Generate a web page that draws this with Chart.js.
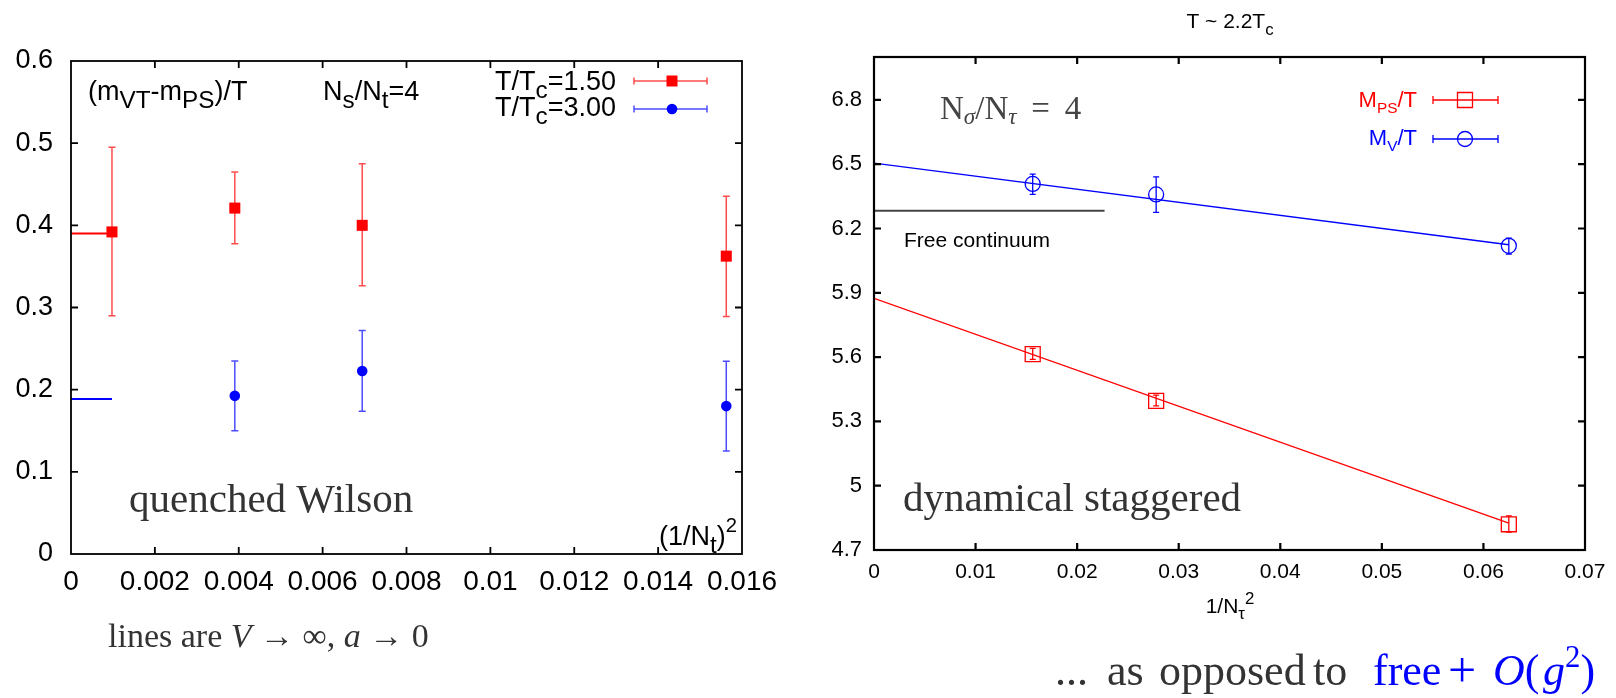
<!DOCTYPE html>
<html>
<head>
<meta charset="utf-8">
<script src="https://cdn.jsdelivr.net/npm/chart.js@4/dist/chart.umd.min.js"></script>
<style>
  body { margin: 0; background: #fff; width: 1616px; height: 698px; overflow: hidden; position: relative; }
  .panel { position: absolute; top: 0; height: 698px; }
  #left { left: 0; width: 800px; }
  #right { left: 800px; width: 816px; }
</style>
</head>
<body>
<div class="panel" id="left"><canvas id="wilson"></canvas></div>
<div class="panel" id="right"><canvas id="staggered"></canvas></div>
<script>
// left panel: quenched Wilson, (m_VT - m_PS)/T against (1/N_t)^2
const wilsonX = [0.000977, 0.003906, 0.006944, 0.015625];
const wilson150 = [0.392, 0.421, 0.400, 0.3625];
const wilson150Lo = [0.290, 0.3775, 0.3265, 0.289];
const wilson150Hi = [0.495, 0.465, 0.475, 0.4355];
const wilson300X = [0.003906, 0.006944, 0.015625];
const wilson300 = [0.1925, 0.2227, 0.180];
const wilson300Lo = [0.150, 0.1737, 0.1255];
const wilson300Hi = [0.235, 0.272, 0.2345];
const limitX = [0, 0.000977];
const limit150 = [0.390, 0.390];
const limit300 = [0.1887, 0.1887];
const leftXTicks = [0, 0.002, 0.004, 0.006, 0.008, 0.01, 0.012, 0.014, 0.016];
const leftXLabels = ['0', '0.002', '0.004', '0.006', '0.008', '0.01', '0.012', '0.014', '0.016'];
const leftYTicks = [0, 0.1, 0.2, 0.3, 0.4, 0.5, 0.6];
const leftYLabels = ['0', '0.1', '0.2', '0.3', '0.4', '0.5', '0.6'];

// right panel: dynamical staggered, M/T against 1/N_tau^2
const stagX = [0.015625, 0.027778, 0.0625];
const stagMV = [6.408, 6.359, 6.119];
const stagMVLo = [6.359, 6.275, 6.081];
const stagMVHi = [6.454, 6.441, 6.155];
const stagMPS = [5.614, 5.396, 4.820];
const stagMPSLo = [5.589, 5.372, 4.784];
const stagMPSHi = [5.641, 5.423, 4.859];
const fitX = [0, 0.0625];
const fitMV = [6.505, 6.124];
const fitMPS = [5.874, 4.825];
const freeX = [0, 0.0227];
const freeY = [6.283, 6.283];
const rightXTicks = [0, 0.01, 0.02, 0.03, 0.04, 0.05, 0.06, 0.07];
const rightXLabels = ['0', '0.01', '0.02', '0.03', '0.04', '0.05', '0.06', '0.07'];
const rightYTicks = [4.7, 5, 5.3, 5.6, 5.9, 6.2, 6.5, 6.8];
const rightYLabels = ['4.7', '5', '5.3', '5.6', '5.9', '6.2', '6.5', '6.8'];

const SANS = '"Liberation Sans", Arial, sans-serif';
const SERIF = '"Liberation Serif", "Times New Roman", serif';
const RED = '#ff0000';
const BLUE = '#0000ff';

const pts = (xs, ys) => xs.map((x, i) => ({x: x, y: ys[i]}));

// text with sub/superscripts: parts are [text, 'sub'|'sup'|'', italic, colour]
function rich(ctx, x, y, parts, o) {
	const fontFor = p => {
		const s = p[1] === 'sub' ? o.size * (o.subScale || 0.8) : p[1] === 'sup' ? o.size * (o.supScale || 0.8) : o.size;
		return (p[2] ? 'italic ' : '') + s + 'px ' + o.family;
	};
	let w = 0;
	parts.forEach(p => { ctx.font = fontFor(p); w += ctx.measureText(p[0]).width; });
	let cx = o.align === 'right' ? x - w : o.align === 'center' ? x - w / 2 : x;
	ctx.textAlign = 'left';
	ctx.textBaseline = 'alphabetic';
	parts.forEach(p => {
		ctx.font = fontFor(p);
		ctx.fillStyle = p[3] || o.color || '#000';
		const dy = p[1] === 'sub' ? (o.subDrop || o.size * 0.3) : p[1] === 'sup' ? -(o.supRise || o.size * 0.45) : 0;
		ctx.fillText(p[0], cx, y + dy);
		cx += ctx.measureText(p[0]).width;
	});
}

function marker(ctx, style, x, y, r, color, filled) {
	ctx.beginPath();
	if (style === 'rect') ctx.rect(x - r, y - r, 2 * r, 2 * r);
	else ctx.arc(x, y, r, 0, Math.PI * 2);
	if (filled) { ctx.fillStyle = color; ctx.fill(); }
	else { ctx.strokeStyle = color; ctx.lineWidth = 1.3; ctx.stroke(); }
}

function legendSample(ctx, x0, x1, y, color, cap, lw) {
	ctx.strokeStyle = color;
	ctx.lineWidth = lw;
	ctx.beginPath();
	ctx.moveTo(x0, y); ctx.lineTo(x1, y);
	ctx.moveTo(x0, y - cap); ctx.lineTo(x0, y + cap);
	ctx.moveTo(x1, y - cap); ctx.lineTo(x1, y + cap);
	ctx.stroke();
}

// the axis box is given a fixed size so the plot area lands where the reference has it
function axis(min, max, ticks, labels, size, pad, boxSize, horizontal) {
	return {
		type: 'linear',
		min: min,
		max: max,
		grid: {display: false, drawTicks: false},
		border: {display: false},
		afterBuildTicks: s => { s.ticks = ticks.map(v => ({value: v})); },
		afterFit: s => { if (horizontal) s.height = boxSize; else s.width = boxSize; },
		ticks: {
			color: '#000',
			padding: pad,
			autoSkip: false,
			maxRotation: 0,
			font: {family: SANS, size: size},
			callback: (v, i) => labels[i]
		}
	};
}

// gnuplot style frame with inward ticks on all four sides
const frame = {
	id: 'frame',
	afterDraw(chart, args, opts) {
		const {ctx, chartArea: a, scales: {x, y}} = chart;
		ctx.save();
		ctx.strokeStyle = '#000';
		ctx.lineWidth = opts.width;
		ctx.strokeRect(a.left, a.top, a.right - a.left, a.bottom - a.top);
		ctx.beginPath();
		x.ticks.forEach(t => {
			const px = x.getPixelForValue(t.value);
			if (px < a.left + 2 || px > a.right - 2) return;
			ctx.moveTo(px, a.bottom); ctx.lineTo(px, a.bottom - opts.len);
			ctx.moveTo(px, a.top); ctx.lineTo(px, a.top + opts.len);
		});
		y.ticks.forEach(t => {
			const py = y.getPixelForValue(t.value);
			if (py < a.top + 2 || py > a.bottom - 2) return;
			ctx.moveTo(a.left, py); ctx.lineTo(a.left + opts.len, py);
			ctx.moveTo(a.right, py); ctx.lineTo(a.right - opts.len, py);
		});
		ctx.stroke();
		ctx.restore();
	}
};

const errorBars = {
	id: 'errorBars',
	beforeDatasetsDraw(chart) {
		const {ctx, scales: {x, y}} = chart;
		chart.data.datasets.forEach(ds => {
			if (!ds.errLo) return;
			ctx.save();
			ctx.strokeStyle = ds.errColor;
			ctx.lineWidth = ds.errWidth;
			ds.data.forEach((p, i) => {
				const px = x.getPixelForValue(p.x);
				const lo = y.getPixelForValue(ds.errLo[i]);
				const hi = y.getPixelForValue(ds.errHi[i]);
				const c = ds.errCap;
				ctx.beginPath();
				ctx.moveTo(px, lo); ctx.lineTo(px, hi);
				ctx.moveTo(px - c, lo); ctx.lineTo(px + c, lo);
				ctx.moveTo(px - c, hi); ctx.lineTo(px + c, hi);
				ctx.stroke();
			});
			ctx.restore();
		});
	}
};

const wilsonNotes = {
	id: 'wilsonNotes',
	afterDraw(chart) {
		const ctx = chart.ctx;
		const t = {size: 27, family: SANS, subScale: 0.9, subDrop: 8, supScale: 0.75, supRise: 13};
		ctx.save();
		rich(ctx, 88, 100, [['(m'], ['VT', 'sub'], ['-m'], ['PS', 'sub'], [')/T']], t);
		rich(ctx, 323, 100, [['N'], ['s', 'sub'], ['/N'], ['t', 'sub'], ['=4']], t);
		rich(ctx, 616, 90, [['T/T'], ['c', 'sub'], ['=1.50']], Object.assign({align: 'right'}, t));
		rich(ctx, 616, 116, [['T/T'], ['c', 'sub'], ['=3.00']], Object.assign({align: 'right'}, t));
		legendSample(ctx, 634, 707, 81, 'rgba(255,0,0,0.7)', 3.5, 1.5);
		marker(ctx, 'rect', 672, 81, 5.5, RED, true);
		legendSample(ctx, 634, 707, 109, 'rgba(0,0,255,0.7)', 3.5, 1.5);
		marker(ctx, 'circle', 672, 109, 5.3, BLUE, true);
		rich(ctx, 737, 545, [['(1/N'], ['t', 'sub'], [')'], ['2', 'sup']], Object.assign({align: 'right'}, t));
		rich(ctx, 129, 512, [['quenched Wilson']], {size: 41, family: SERIF, color: '#333'});
		rich(ctx, 108, 647, [['lines are '], ['V', '', true], [' \u2192 \u221e, '], ['a', '', true], [' \u2192 0']],
			{size: 34, family: SERIF, color: '#333'});
		ctx.restore();
	}
};

const staggeredNotes = {
	id: 'staggeredNotes',
	afterDraw(chart) {
		const ctx = chart.ctx;
		ctx.save();
		rich(ctx, 430, 28, [['T ~ 2.2T'], ['c', 'sub']], {size: 21, family: SANS, align: 'center', subScale: 0.8, subDrop: 7});
		const lg = {size: 22, family: SANS, align: 'right', subScale: 0.7, subDrop: 6};
		rich(ctx, 617, 107, [['M', '', false, RED], ['PS', 'sub', false, RED], ['/T', '', false, RED]], lg);
		rich(ctx, 617, 145, [['M', '', false, BLUE], ['V', 'sub', false, BLUE], ['/T', '', false, BLUE]], lg);
		legendSample(ctx, 633, 698, 100, RED, 4, 1.3);
		marker(ctx, 'rect', 665, 100, 7.5, RED, false);
		legendSample(ctx, 633, 698, 139, BLUE, 4, 1.3);
		marker(ctx, 'circle', 665, 139, 7.5, BLUE, false);
		rich(ctx, 140, 119, [['N'], ['\u03c3', 'sub', true], ['/N'], ['\u03c4', 'sub', true], ['\u2009 = \u20094']],
			{size: 33, family: SERIF, color: '#444', subScale: 0.7, subDrop: 5});
		rich(ctx, 104, 247, [['Free continuum']], {size: 21, family: SANS});
		rich(ctx, 103, 511, [['dynamical staggered']], {size: 41, family: SERIF, color: '#333'});
		rich(ctx, 430, 613, [['1/N'], ['\u03c4', 'sub'], ['2', 'sup']], {size: 21, family: SANS, subScale: 0.8, subDrop: 6, supScale: 0.8, supRise: 9, align: 'center'});
		// closing remark, word by word as it is spaced in the slide
		const big = {size: 44, family: SERIF, color: '#333'};
		rich(ctx, 255, 685, [['...']], big);
		rich(ctx, 307, 685, [['as']], big);
		rich(ctx, 359, 685, [['opposed']], big);
		rich(ctx, 513, 685, [['to']], big);
		const blue = {size: 44, family: SERIF, color: BLUE, supScale: 0.7, supRise: 18};
		rich(ctx, 573, 685, [['free']], blue);
		rich(ctx, 648, 687, [['+']], {size: 50, family: SERIF, color: BLUE});
		rich(ctx, 693, 685, [['O', '', true], ['(']], blue);
		rich(ctx, 743, 685, [['g', '', true], ['2', 'sup'], [')']], blue);
		ctx.restore();
	}
};

Chart.defaults.animation = false;

new Chart(document.getElementById('wilson'), {
	type: 'scatter',
	data: {
		datasets: [
			{data: pts(limitX, limit150), showLine: true, borderColor: RED, borderWidth: 2, pointRadius: 0},
			{data: pts(limitX, limit300), showLine: true, borderColor: BLUE, borderWidth: 2, pointRadius: 0},
			{
				label: 'T/Tc=1.50', data: pts(wilsonX, wilson150), pointStyle: 'rect', pointRadius: 7.8,
				backgroundColor: RED, borderColor: RED, borderWidth: 0,
				errLo: wilson150Lo, errHi: wilson150Hi, errColor: 'rgba(255,0,0,0.7)', errWidth: 1.5, errCap: 3.5
			},
			{
				label: 'T/Tc=3.00', data: pts(wilson300X, wilson300), pointStyle: 'circle', pointRadius: 5.3,
				backgroundColor: BLUE, borderColor: BLUE, borderWidth: 0,
				errLo: wilson300Lo, errHi: wilson300Hi, errColor: 'rgba(0,0,255,0.7)', errWidth: 1.5, errCap: 3.5
			}
		]
	},
	options: {
		responsive: true,
		maintainAspectRatio: false,
		devicePixelRatio: 1,
		layout: {padding: {left: 0, right: 58, top: 61, bottom: 0}},
		plugins: {legend: {display: false}, tooltip: {enabled: false}, frame: {width: 1.8, len: 7}},
		scales: {
			x: axis(0, 0.016, leftXTicks, leftXLabels, 28, 11, 144, true),
			y: axis(0, 0.6, leftYTicks, leftYLabels, 27, 18, 71, false)
		}
	},
	plugins: [errorBars, frame, wilsonNotes]
});

new Chart(document.getElementById('staggered'), {
	type: 'scatter',
	data: {
		datasets: [
			{data: pts(freeX, freeY), showLine: true, borderColor: '#444', borderWidth: 2, pointRadius: 0},
			{data: pts(fitX, fitMV), showLine: true, borderColor: BLUE, borderWidth: 1.3, pointRadius: 0},
			{data: pts(fitX, fitMPS), showLine: true, borderColor: RED, borderWidth: 1.3, pointRadius: 0},
			{
				label: 'MPS/T', data: pts(stagX, stagMPS), pointStyle: 'rect', pointRadius: 10.6,
				backgroundColor: 'rgba(0,0,0,0)', borderColor: RED, borderWidth: 1.3,
				errLo: stagMPSLo, errHi: stagMPSHi, errColor: RED, errWidth: 1.3, errCap: 3
			},
			{
				label: 'MV/T', data: pts(stagX, stagMV), pointStyle: 'circle', pointRadius: 7.5,
				backgroundColor: 'rgba(0,0,0,0)', borderColor: BLUE, borderWidth: 1.3,
				errLo: stagMVLo, errHi: stagMVHi, errColor: BLUE, errWidth: 1.3, errCap: 3
			}
		]
	},
	options: {
		responsive: true,
		maintainAspectRatio: false,
		devicePixelRatio: 1,
		layout: {padding: {left: 0, right: 31, top: 57, bottom: 0}},
		plugins: {legend: {display: false}, tooltip: {enabled: false}, frame: {width: 2.2, len: 7}},
		scales: {
			x: axis(0, 0.07, rightXTicks, rightXLabels, 21, 10, 148, true),
			y: axis(4.7, 7.0, rightYTicks, rightYLabels, 22, 12, 74, false)
		}
	},
	plugins: [errorBars, frame, staggeredNotes]
});
</script>
</body>
</html>
